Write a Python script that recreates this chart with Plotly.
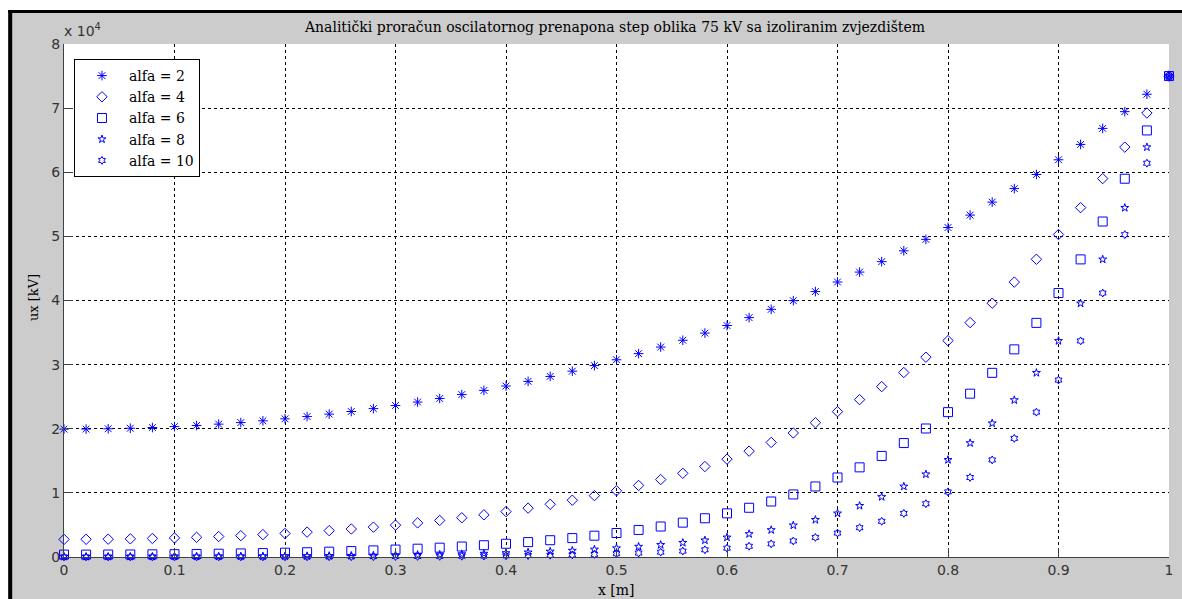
import plotly.graph_objects as go

# ---- data ----
x_m = [0.00, 0.02, 0.04, 0.06, 0.08, 0.10, 0.12, 0.14, 0.16, 0.18,
       0.20, 0.22, 0.24, 0.26, 0.28, 0.30, 0.32, 0.34, 0.36, 0.38,
       0.40, 0.42, 0.44, 0.46, 0.48, 0.50, 0.52, 0.54, 0.56, 0.58,
       0.60, 0.62, 0.64, 0.66, 0.68, 0.70, 0.72, 0.74, 0.76, 0.78,
       0.80, 0.82, 0.84, 0.86, 0.88, 0.90, 0.92, 0.94, 0.96, 0.98, 1.00]

u_alfa2 = [19940, 19950, 20000, 20080, 20190, 20340, 20510, 20720, 20960, 21240,
           21550, 21900, 22280, 22690, 23140, 23630, 24160, 24720, 25330, 25980,
           26660, 27390, 28160, 28980, 29850, 30760, 31720, 32740, 33800, 34920,
           36100, 37330, 38620, 39970, 41390, 42880, 44430, 46060, 47750, 49530,
           51380, 53320, 55340, 57450, 59650, 61950, 64340, 66840, 69450, 72170, 75000]

u_alfa4 = [2750, 2760, 2780, 2830, 2890, 2970, 3070, 3190, 3330, 3490,
           3670, 3880, 4110, 4370, 4660, 4970, 5320, 5700, 6120, 6580,
           7080, 7620, 8220, 8860, 9570, 10330, 11160, 12070, 13050, 14110,
           15260, 16510, 17870, 19340, 20940, 22670, 24540, 26570, 28770, 31160,
           33740, 36550, 39580, 42870, 46430, 50290, 54480, 59010, 63920, 69240, 75000]

u_alfa6 = [372, 374, 383, 396, 415, 441, 472, 511, 557, 611,
           673, 746, 829, 924, 1032, 1155, 1295, 1454, 1633, 1837,
           2066, 2326, 2618, 2949, 3322, 3743, 4218, 4754, 5358, 6040,
           6809, 7675, 8653, 9755, 11000, 12400, 13980, 15760, 17770, 20040,
           22590, 25470, 28720, 32380, 36510, 41160, 46410, 52320, 58990, 66520, 75000]

u_alfa8 = [50, 51, 53, 56, 61, 67, 75, 85, 97, 112,
           130, 151, 175, 205, 239, 280, 327, 384, 450, 527,
           618, 725, 851, 998, 1171, 1374, 1612, 1892, 2220, 2605,
           3057, 3588, 4210, 4941, 5798, 6804, 7984, 9370, 11000, 12900,
           15140, 17770, 20850, 24470, 28720, 33700, 39550, 46410, 54460, 63910, 75000]

u_alfa10 = [7, 7, 7, 8, 9, 11, 12, 15, 18, 21,
            26, 31, 38, 46, 56, 69, 84, 102, 125, 152,
            186, 227, 277, 339, 414, 505, 617, 754, 921, 1125,
            1374, 1678, 2049, 2503, 3057, 3734, 4561, 5571, 6804, 8310,
            10150, 12400, 15140, 18500, 22590, 27590, 33700, 41160, 50270, 61410, 75000]

series_names = ["alfa = 2", "alfa = 4", "alfa = 6", "alfa = 8", "alfa = 10"]
series_values = [u_alfa2, u_alfa4, u_alfa6, u_alfa8, u_alfa10]
series_symbols = ["asterisk-open", "diamond-open", "square-open", "star-open", "hexagram-open"]
series_sizes = [8, 8, 9, 6, 6]

x_tickvals = [0, 0.1, 0.2, 0.3, 0.4, 0.5, 0.6, 0.7, 0.8, 0.9, 1.0]
x_ticktext = ["0", "0.1", "0.2", "0.3", "0.4", "0.5", "0.6", "0.7", "0.8", "0.9", "1"]
y_tickvals = [0, 10000, 20000, 30000, 40000, 50000, 60000, 70000, 80000]
y_ticktext = ["0", "1", "2", "3", "4", "5", "6", "7", "8"]

title_text = "Analitički proračun oscilatornog prenapona step oblika 75 kV sa izoliranim zvjezdištem"

# ---- figure ----
W, H = 1182, 599
L, R, T, B = 64, 9, 44, 42
PW, PH = W - L - R, H - T - B


def px(xp):
    return (xp - L) / PW


def py(yp):
    return (H - B - yp) / PH


BLUE = "#0000ff"
GRAY = "#cccccc"
TICKFONT = dict(family="DejaVu Sans, sans-serif", size=14, color="#333333")
SERIF = "DejaVu Serif, serif"

fig = go.Figure()
for name, vals, sym, sz in zip(series_names, series_values, series_symbols, series_sizes):
    fig.add_trace(go.Scatter(
        x=x_m, y=vals, mode="markers", name=name,
        marker=dict(symbol=sym, size=sz, color=BLUE,
                    line=dict(color=BLUE, width=1)),
        cliponaxis=False,
    ))

fig.update_layout(
    width=W, height=H,
    margin=dict(l=L, r=R, t=T, b=B, pad=0),
    paper_bgcolor=GRAY,
    plot_bgcolor="white",
    showlegend=True,
    title=dict(text=title_text, x=px(617), xref="paper", xanchor="center",
               y=1 - 27 / H, yref="container", yanchor="middle",
               font=dict(family=SERIF, size=14, color="black")),
    legend=dict(x=px(74), y=py(59), xanchor="left", yanchor="top",
                bgcolor="white", bordercolor="black", borderwidth=1,
                font=dict(family=SERIF, size=14, color="black"),
                itemwidth=44, tracegroupgap=0),
    xaxis=dict(range=[0, 1], tickvals=x_tickvals, ticktext=x_ticktext,
               showgrid=True, gridcolor="black", griddash="dot", gridwidth=1,
               zeroline=False, showline=True, linecolor="#404040", linewidth=1,
               ticks="inside", ticklen=9, tickcolor="#404040",
               tickfont=TICKFONT, mirror=False),
    yaxis=dict(range=[0, 80000], tickvals=y_tickvals, ticktext=y_ticktext,
               showgrid=True, gridcolor="black", griddash="dot", gridwidth=1,
               zeroline=False, showline=True, linecolor="#404040", linewidth=1,
               ticks="inside", ticklen=9, tickcolor="#404040",
               tickfont=TICKFONT, mirror=False),
)

# frame: white strips and black edge at top and left
shapes = [
    dict(type="rect", xref="paper", yref="paper", x0=px(-50), x1=px(W + 50),
         y0=py(10), y1=py(-50), fillcolor="white", line=dict(width=0), layer="below"),
    dict(type="rect", xref="paper", yref="paper", x0=px(-50), x1=px(8),
         y0=py(H + 50), y1=py(-50), fillcolor="white", line=dict(width=0), layer="below"),
    dict(type="rect", xref="paper", yref="paper", x0=px(8), x1=px(W + 50),
         y0=py(13), y1=py(10), fillcolor="black", line=dict(width=0), layer="below"),
    dict(type="rect", xref="paper", yref="paper", x0=px(8), x1=px(12),
         y0=py(H + 50), y1=py(10), fillcolor="black", line=dict(width=0), layer="below"),
]
fig.update_layout(shapes=shapes)

fig.add_annotation(text="x 10<sup>4</sup>", xref="paper", yref="paper",
                   x=px(62), y=py(30), xanchor="left", yanchor="middle",
                   showarrow=False, font=TICKFONT)
fig.add_annotation(text="ux [kV]", xref="paper", yref="paper",
                   x=px(33), y=py(298), xanchor="center", yanchor="middle",
                   textangle=-90, showarrow=False,
                   font=dict(family=SERIF, size=13, color="black"))
fig.add_annotation(text="x [m]", xref="paper", yref="paper",
                   x=px(618), y=py(590), xanchor="center", yanchor="middle",
                   showarrow=False, font=dict(family=SERIF, size=14, color="black"))

fig.write_html("out.html",
               config={"displayModeBar": False},
               post_script="document.body.style.margin='0px';document.body.style.overflow='hidden';")
